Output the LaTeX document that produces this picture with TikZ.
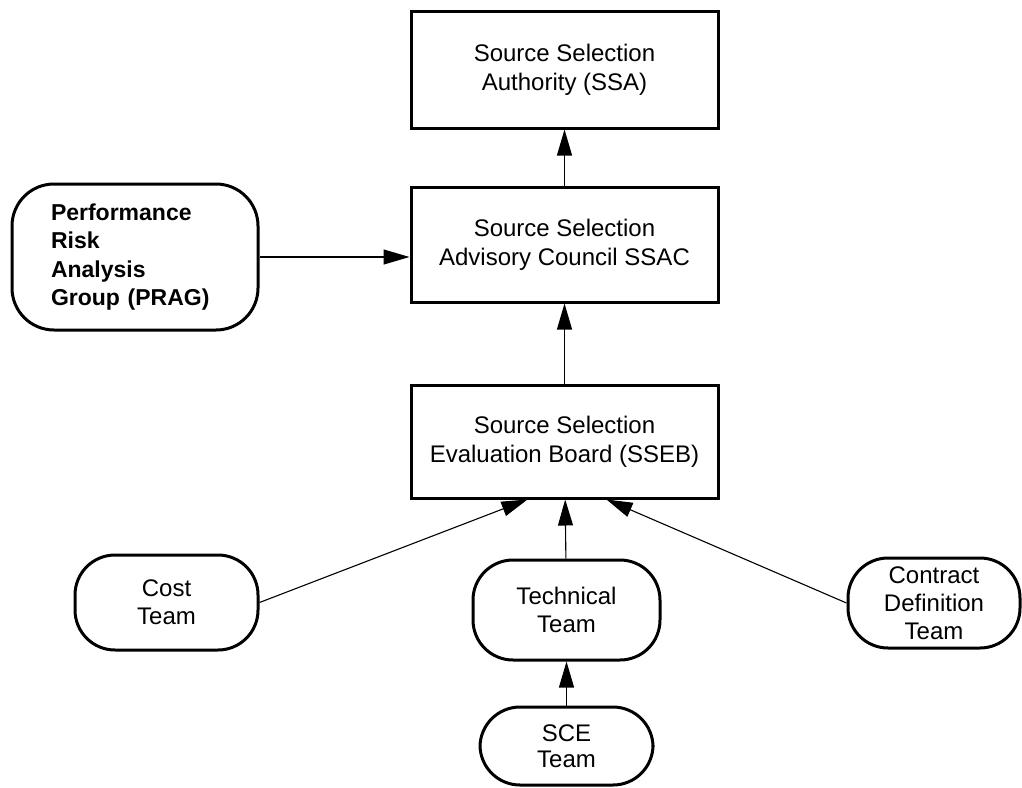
\documentclass[tikz,border=0pt]{standalone}
\usepackage{fontspec}
\setmainfont{Liberation Sans}
\usetikzlibrary{arrows.meta}

\tikzset{
  board/.style={draw, line width=3pt, align=center, inner sep=0pt,
    minimum width=307pt, font=\fontsize{24}{29}\selectfont},
  team/.style={draw, line width=3pt, align=center, inner sep=0pt,
    rounded corners=40pt, font=\fontsize{24}{28}\selectfont},
  link/.style={line width=1.1pt, -{Triangle[length=26pt,width=15pt]}}
}

\begin{document}
\begin{tikzpicture}[x=1pt,y=-1pt]
  \useasboundingbox (0,0) rectangle (1022,787);
  % boards in the middle column
  \node[board, minimum height=117pt] (ssa) at (564.5,69.5) {Source Selection\\Authority (SSA)};
  \node[board, minimum height=115pt] (ssac) at (564.5,244.5) {Source Selection\\Advisory Council SSAC};
  \node[board, minimum height=113pt] (sseb) at (564.5,441.5) {Source Selection\\Evaluation Board (SSEB)};
  % performance risk group on the left
  \node[draw, line width=3pt, rounded corners=42pt, minimum width=246pt, minimum height=146pt,
    inner sep=0pt, text width=168pt, align=left, font=\fontsize{23}{28.5}\selectfont\bfseries]
    (prag) at (135,257) {Performance\\Risk\\Analysis\\Group (PRAG)};
  % teams
  \node[team, minimum width=183pt, minimum height=95pt] (cost) at (166.5,602.5) {Cost\\Team};
  \node[team, minimum width=187pt, minimum height=100pt] (tech) at (566.5,610) {Technical\\Team};
  \node[team, minimum width=172pt, minimum height=90pt] (cdt) at (934,603) {Contract\\Definition\\Team};
  \node[team, minimum width=173pt, minimum height=78pt, font=\fontsize{24}{26}\selectfont] (sce) at (566.5,746) {SCE\\Team};
  % connectors
  \draw[link] (sseb) -- (ssac);
  \draw[link] (ssac) -- (ssa);
  \draw[link] (prag) -- (prag -| ssac.west);
  \draw[link] (tech) -- (sseb);
  \draw[link] (sce) -- (tech);
  \draw[link] (cost.east) -- ([xshift=-37pt]sseb.south);
  \draw[link] (cdt.west) -- ([xshift=42pt]sseb.south);
\end{tikzpicture}
\end{document}
